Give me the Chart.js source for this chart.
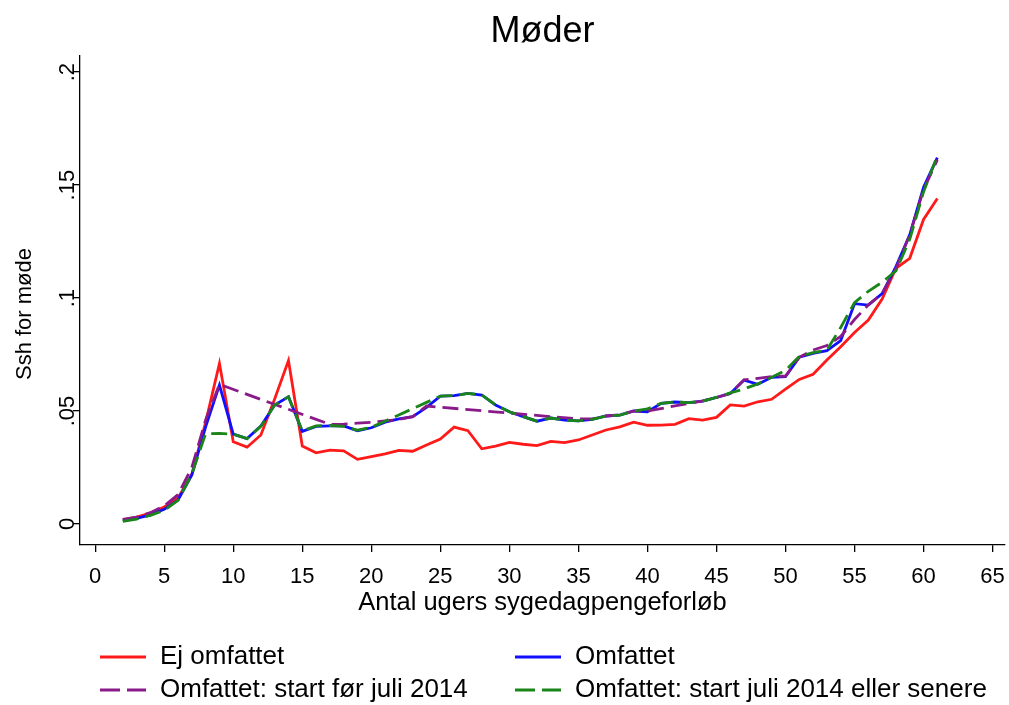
<!DOCTYPE html>
<html>
<head>
<meta charset="utf-8">
<script src="https://cdn.jsdelivr.net/npm/chart.js@4"></script>
<style>
  html, body { margin: 0; padding: 0; background: #fff; }
  #wrap { width: 1009px; height: 705px; }
</style>
</head>
<body>
<div id="wrap"><canvas id="chart" width="1009" height="705"></canvas></div>
<script>
  const FONT = "'Liberation Sans', Arial, sans-serif";

  // weeks of sickness benefit spell
  const weeks = [2, 3, 4, 5, 6, 7, 8, 9, 10, 11, 12, 13, 14, 15, 16, 17, 18, 19, 20, 21,
    22, 23, 24, 25, 26, 27, 28, 29, 30, 31, 32, 33, 34, 35, 36, 37, 38, 39, 40, 41,
    42, 43, 44, 45, 46, 47, 48, 49, 50, 51, 52, 53, 54, 55, 56, 57, 58, 59, 60, 61];

  const ejOmfattet = [0.0018, 0.003, 0.0048, 0.0075, 0.0115, 0.022, 0.045, 0.0711, 0.0364, 0.034,
    0.0394, 0.0553, 0.0723, 0.0345, 0.0315, 0.0327, 0.0324, 0.0286, 0.0298, 0.031,
    0.0326, 0.0322, 0.035, 0.0376, 0.0429, 0.0413, 0.0333, 0.0345, 0.0361, 0.0353,
    0.0347, 0.0366, 0.036, 0.0372, 0.0394, 0.0416, 0.043, 0.0451, 0.0437, 0.0438,
    0.0441, 0.0466, 0.046, 0.0472, 0.0527, 0.0522, 0.0541, 0.0552, 0.0597, 0.064,
    0.0663, 0.0726, 0.0785, 0.0848, 0.0903, 0.0996, 0.1132, 0.1176, 0.1348, 0.1441];

  const omfattet = [0.0015, 0.0025, 0.004, 0.0065, 0.0106, 0.0217, 0.043, 0.0615, 0.0398, 0.0378,
    0.0434, 0.0527, 0.0563, 0.041, 0.0432, 0.0434, 0.0434, 0.0413, 0.0426, 0.0451,
    0.0465, 0.0475, 0.0516, 0.0566, 0.0568, 0.0578, 0.0571, 0.0527, 0.0497, 0.0475,
    0.0455, 0.0469, 0.046, 0.0456, 0.0463, 0.0478, 0.0482, 0.05, 0.0497, 0.0534,
    0.054, 0.0537, 0.0544, 0.056, 0.0578, 0.0637, 0.0618, 0.0649, 0.0652, 0.0738,
    0.0755, 0.0767, 0.0812, 0.0975, 0.0969, 0.102, 0.1139, 0.128, 0.149, 0.1622];

  const startFoer = [0.002, 0.003, 0.005, 0.008, 0.013, 0.025, 0.046, 0.0618, null, null,
    null, null, null, null, null, 0.0441, 0.0442, 0.0446, 0.045, 0.0456,
    0.0463, 0.0475, 0.0522, null, null, null, null, null, null, null,
    null, null, null, 0.0465, 0.0465, 0.0478, 0.0483, 0.05, 0.05, null,
    null, null, 0.0545, 0.056, 0.0578, 0.0638, 0.0645, 0.0652, 0.0655, 0.0738,
    0.077, 0.079, 0.083, 0.0905, 0.097, 0.102, 0.113, 0.128, 0.148, 0.1612];

  const startEfter = [0.0012, 0.0022, 0.0038, 0.006, 0.0105, 0.022, 0.04, 0.0401, 0.0398, 0.0378,
    0.0432, 0.0527, 0.0563, 0.0412, 0.0434, 0.0436, 0.0432, 0.0415, 0.0428, 0.0455,
    null, null, null, 0.0566, 0.0568, 0.0578, 0.0571, 0.0527, 0.0497, 0.0475,
    0.0455, 0.0469, 0.046, 0.0456, 0.0463, 0.0478, 0.0482, 0.05, 0.051, 0.0534,
    0.054, 0.0537, 0.0544, 0.056, 0.058, 0.0598, 0.062, 0.065, 0.068, 0.0742,
    0.0758, 0.077, 0.087, 0.098, 0.103, 0.107, 0.112, 0.126, 0.147, 0.163];

  const xTicks = [0, 5, 10, 15, 20, 25, 30, 35, 40, 45, 50, 55, 60, 65];
  const yTicks = [0, 0.05, 0.1, 0.15, 0.2];
  const yTickLabels = ["0", ".05", ".1", ".15", ".2"];

  const seriesNames = ["Ej omfattet", "Omfattet", "Omfattet: start før juli 2014",
    "Omfattet: start juli 2014 eller senere"];

  function toPoints(values) {
    return weeks.map((w, i) => ({ x: w, y: values[i] }));
  }

  function makeDataset(label, values, color, dashed, order) {
    return {
      label,
      data: toPoints(values),
      borderColor: color,
      backgroundColor: color,
      borderWidth: 2.8,
      borderDash: dashed ? [16, 7] : [],
      pointRadius: 0,
      tension: 0,
      spanGaps: true,
      order,
    };
  }

  // y tick labels (rotated), y title and the two-column legend
  const extras = {
    id: "extras",
    afterDraw(chart) {
      const ctx = chart.ctx;
      const yScale = chart.scales.y;
      ctx.save();
      ctx.fillStyle = "#000";
      ctx.font = "22px " + FONT;
      ctx.textAlign = "center";
      ctx.textBaseline = "middle";
      yTicks.forEach((v, i) => {
        const py = yScale.getPixelForValue(v);
        ctx.save();
        ctx.translate(68, py);
        ctx.rotate(-Math.PI / 2);
        ctx.fillText(yTickLabels[i], 0, 0);
        ctx.restore();
      });

      ctx.save();
      ctx.translate(25, 314);
      ctx.rotate(-Math.PI / 2);
      ctx.fillText("Ssh for møde", 0, 0);
      ctx.restore();

      // legend
      const slots = [
        { x: 100, y: 657 },
        { x: 515, y: 657 },
        { x: 100, y: 690 },
        { x: 515, y: 690 },
      ];
      ctx.font = "26px " + FONT;
      ctx.textAlign = "left";
      chart.data.datasets.forEach((ds, i) => {
        const s = slots[i];
        ctx.strokeStyle = ds.borderColor;
        ctx.lineWidth = 2.8;
        ctx.setLineDash(ds.borderDash.length ? [20, 7] : []);
        ctx.beginPath();
        ctx.moveTo(s.x, s.y);
        ctx.lineTo(s.x + 46, s.y);
        ctx.stroke();
        ctx.setLineDash([]);
        ctx.fillText(ds.label, s.x + 60, s.y);
      });
      ctx.restore();
    },
  };

  const chart = new Chart(document.getElementById("chart"), {
    type: "line",
    data: {
      datasets: [
        makeDataset(seriesNames[0], ejOmfattet, "#ff1a1a", false, 4),
        makeDataset(seriesNames[1], omfattet, "#1010ff", false, 3),
        makeDataset(seriesNames[2], startFoer, "#8a1a8a", true, 2),
        makeDataset(seriesNames[3], startEfter, "#1a861a", true, 1),
      ],
    },
    options: {
      responsive: false,
      animation: false,
      devicePixelRatio: 1,
      layout: { padding: { left: 0, right: 4, top: 0, bottom: 85 } },
      plugins: {
        legend: { display: false },
        tooltip: { enabled: false },
        title: {
          display: true,
          text: "Møder",
          fullSize: false,
          color: "#000",
          font: { family: FONT, size: 36, weight: "normal" },
          padding: { top: 10, bottom: 2 },
        },
      },
      scales: {
        x: {
          type: "linear",
          min: -1.1,
          max: 65.9,
          afterBuildTicks: (scale) => {
            scale.ticks = xTicks.map((v) => ({ value: v }));
          },
          afterFit: (scale) => {
            scale.height = 75;
            scale.paddingLeft = 0;
            scale.paddingRight = 0;
          },
          grid: {
            drawOnChartArea: false,
            drawTicks: true,
            tickLength: 7,
            color: "#000",
            lineWidth: 1.3,
          },
          border: { display: true, color: "#000", width: 1.3 },
          ticks: {
            color: "#000",
            font: { family: FONT, size: 22 },
            padding: 12,
            maxRotation: 0,
            autoSkip: false,
            callback: (v) => String(v),
          },
          title: {
            display: true,
            text: "Antal ugers sygedagpengeforløb",
            color: "#000",
            font: { family: FONT, size: 25.5 },
            padding: { top: 0, bottom: 2 },
          },
        },
        y: {
          type: "linear",
          min: -0.0093,
          max: 0.2075,
          afterBuildTicks: (scale) => {
            scale.ticks = yTicks.map((v) => ({ value: v }));
          },
          afterFit: (scale) => {
            scale.width = 80;
            scale.paddingTop = 0;
            scale.paddingBottom = 0;
          },
          grid: {
            drawOnChartArea: false,
            drawTicks: true,
            tickLength: 7,
            color: "#000",
            lineWidth: 1.3,
          },
          border: { display: true, color: "#000", width: 1.3 },
          ticks: { display: false },
        },
      },
    },
    plugins: [extras],
  });
</script>
</body>
</html>
